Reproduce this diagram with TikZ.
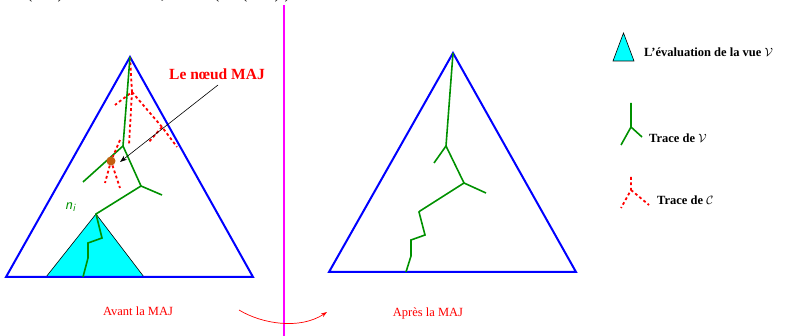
\documentclass[tikz,border=0pt]{standalone}
\usepackage{fontspec}
\setmainfont{Liberation Serif}
\usetikzlibrary{arrows.meta}
\definecolor{tgreen}{RGB}{0,145,0}
\definecolor{tblue}{RGB}{0,0,255}
\definecolor{tred}{RGB}{255,0,0}
\definecolor{tcyan}{RGB}{0,255,255}
\definecolor{tmag}{RGB}{255,0,255}
\definecolor{tdot}{RGB}{195,95,15}
\begin{document}
\begin{tikzpicture}[x=1pt,y=-1pt,
  bigtri/.style={draw=tblue,line width=2pt,line join=miter},
  evaltri/.style={draw=black,line width=0.6pt,fill=tcyan},
  vtrace/.style={draw=tgreen,line width=1.6pt},
  ctrace/.style={draw=tred,line width=1.8pt,dash pattern=on 2.8pt off 2.6pt},
  lbl/.style={inner sep=0pt,font=\fontsize{12.5}{14}\selectfont,text=tred},
  leg/.style={inner sep=0pt,anchor=west,font=\fontsize{12.5}{14}\selectfont\bfseries},
  cut/.style={inner sep=0pt,anchor=base,font=\fontsize{13}{14}\selectfont\bfseries,text=black!85}]
\path[use as bounding box] (0,0) rectangle (785,336);
% cut-off glyphs at top edge
\node[cut] (g1) at (30,-0.5) {(};
\node[cut] (g2) at (60,-0.5) {)};
\node[cut] (g3) at (163,-0.5) {,};
\node[cut] (g4) at (217,-0.5) {(};
\node[cut] (g5) at (245,-0.5) {(};
\node[cut] (g6) at (277,-0.5) {)};
\node[cut] (g7) at (287,-0.5) {)};
% separator
\coordinate (s1) at (284,5);
\coordinate (s2) at (284,336);
\draw[tmag,line width=1.2pt] (s1) -- (s2);
% ---------- left triangle ----------
\coordinate (LA) at (130,57);
\coordinate (LB) at (6,277);
\coordinate (LC) at (253,277);
\coordinate (EA) at (96,214);
\coordinate (EB) at (46,277);
\coordinate (EC) at (144,277);
\draw[evaltri] (EA) -- (EB) -- (EC) -- cycle;
\draw[bigtri] (LA) -- (LB) -- (LC) -- cycle;
% red trace C (left)
\coordinate (r1) at (132,92);
\coordinate (r2) at (115,105);
\coordinate (r3) at (129,145);
\coordinate (r4) at (162,127);
\coordinate (r5) at (177,147);
\coordinate (r6) at (148,143);
\coordinate (r7) at (120,140);
\coordinate (r8) at (105,183);
\coordinate (r9) at (120,188);
\draw[ctrace] (LA) -- (r1) -- (r2);
\draw[ctrace] (r1) -- (r3);
\draw[ctrace] (r1) -- (r4) -- (r5);
\draw[ctrace] (r4) -- (r6);
% green trace V (left)
\coordinate (v1) at (123,146);
\coordinate (v2) at (83,182);
\coordinate (v3) at (141,186);
\coordinate (v4) at (162,195);
\coordinate (w1) at (102,238);
\coordinate (w2) at (88,243);
\coordinate (w3) at (88,258);
\coordinate (w4) at (83,277);
\draw[vtrace] (LA) -- (v1) -- (v2);
\draw[vtrace] (v1) -- (v3) -- (v4);
\draw[vtrace] (v3) -- (EA) -- (w1) -- (w2) -- (w3) -- (w4);
% update node
\node[circle,fill=tdot,inner sep=0pt,minimum size=9pt] (maj) at (111,161) {};
\draw[ctrace] (r7) -- (maj) -- (r8);
\draw[ctrace] (maj) -- (r9);
\node[inner sep=0pt,font=\fontsize{15.5}{17}\selectfont\bfseries,text=tred] (majlbl) at (217,74) {Le nœud MAJ};
\coordinate (arrS) at (218,85);
\coordinate (arrE) at (120,162);
\draw[black,line width=0.6pt,-{Stealth[length=7pt,width=5pt]}] (arrS) -- (arrE);
\node[inner sep=0pt,font=\fontsize{15}{17}\selectfont\sffamily\itshape,text=tgreen] (ni) at (70,207) {n\raisebox{-0.35ex}{\fontsize{11}{12}\selectfont i}};
% ---------- right triangle ----------
\coordinate (RA) at (453,53);
\coordinate (RB) at (329,272);
\coordinate (RC) at (576,272);
\draw[bigtri] (RA) -- (RB) -- (RC) -- cycle;
\coordinate (u1) at (446,146);
\coordinate (u2) at (434,163);
\coordinate (u3) at (464,183);
\coordinate (u4) at (486,193);
\coordinate (u5) at (420,211);
\coordinate (u5b) at (419,212);
\coordinate (u6) at (425,235);
\coordinate (u7) at (411,240);
\coordinate (u8) at (411,256);
\coordinate (u9) at (406,272);
\draw[vtrace] (RA) -- (u1) -- (u2);
\draw[vtrace] (u1) -- (u3) -- (u4);
\draw[vtrace] (u3) -- (u5) -- (u5b) -- (u6) -- (u7) -- (u8) -- (u9);
% ---------- legend ----------
\coordinate (tA) at (623.5,33);
\coordinate (tB) at (613,61);
\coordinate (tC) at (634,61);
\draw[evaltri] (tA) -- (tB) -- (tC) -- cycle;
\node[leg] (l1) at (644,52) {L’évaluation de la vue $\mathcal{V}$};
\coordinate (gv0) at (631,103);
\coordinate (gv1) at (631,127);
\coordinate (gv2) at (621,145);
\coordinate (gv3) at (642,137);
\draw[vtrace] (gv0) -- (gv1) -- (gv2);
\draw[vtrace] (gv1) -- (gv3);
\node[leg] (l2) at (649,138) {Trace de $\mathcal{V}$};
\coordinate (gc0) at (631,177);
\coordinate (gc1) at (631,190);
\coordinate (gc2) at (621,208);
\coordinate (gc3) at (649,205);
\draw[ctrace] (gc0) -- (gc1) -- (gc2);
\draw[ctrace] (gc1) -- (gc3);
\node[leg] (l3) at (657,200) {Trace de $\mathcal{C}$};
% ---------- bottom labels ----------
\node[lbl] (avant) at (138,311) {Avant la MAJ};
\node[lbl] (apres) at (428,313) {Après la MAJ};
\coordinate (c1) at (239,310);
\coordinate (c2) at (327,312);
\draw[tred,line width=0.7pt,-{Stealth[length=6pt,width=4pt]}] (c1) .. controls (262,324) and (300,330) .. (c2);
\end{tikzpicture}
\end{document}
